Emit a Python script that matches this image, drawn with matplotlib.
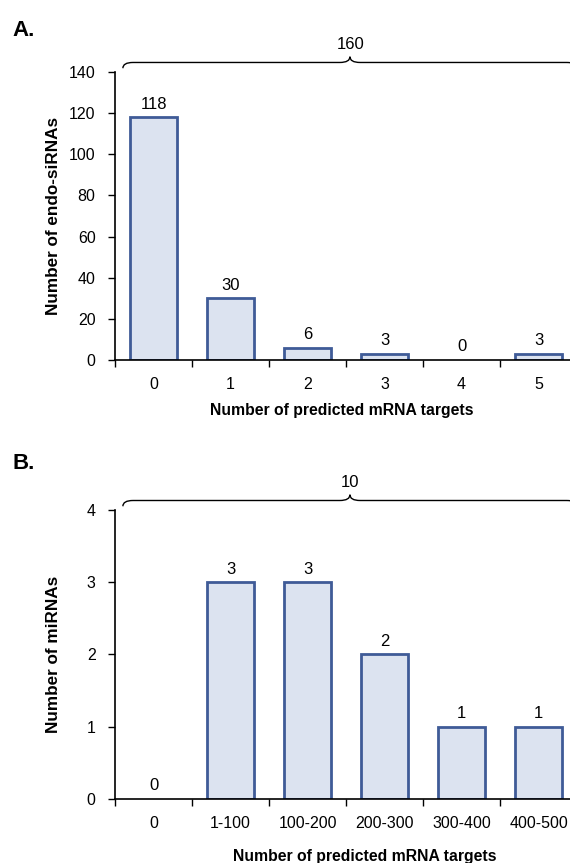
import numpy as np
import matplotlib
matplotlib.use('Agg')
import matplotlib.pyplot as plt
from matplotlib.path import Path
from matplotlib.patches import PathPatch

plt.rcParams['font.family'] = ['Liberation Sans', 'DejaVu Sans']
plt.rcParams['font.size'] = 11.5

# panel A: endo-siRNAs
a_cats = ['0', '1', '2', '3', '4', '5']
a_vals = [118, 30, 6, 3, 0, 3]
a_total = 160
a_yticks = [0, 20, 40, 60, 80, 100, 120, 140]

# panel B: miRNAs
b_cats = ['0', '1-100', '100-200', '200-300', '300-400', '400-500']
b_vals = [0, 3, 3, 2, 1, 1]
b_total = 10
b_yticks = [0, 1, 2, 3, 4]

edge = '#3F5B97'
fill = '#DCE3F0'


def brace(ax, x0, x1, y, h, r):
    xm = (x0 + x1) / 2
    verts = [(x0, y - h), (x0, y), (x0 + r, y),
             (xm - r, y), (xm, y), (xm, y + h),
             (xm, y), (xm + r, y),
             (x1 - r, y), (x1, y), (x1, y - h)]
    codes = [Path.MOVETO, Path.CURVE3, Path.CURVE3,
             Path.LINETO, Path.CURVE3, Path.CURVE3,
             Path.CURVE3, Path.CURVE3,
             Path.LINETO, Path.CURVE3, Path.CURVE3]
    p = PathPatch(Path(verts, codes), transform=ax.transAxes, fill=False,
                  lw=1.0, color='black', clip_on=False)
    ax.add_patch(p)


def panel(ax, cats, vals, yticks, ylabel, total, xlab_pos):
    x = np.arange(len(cats))
    lws = [2 if v > 0 else 0 for v in vals]
    ax.bar(x, vals, width=0.62, color=fill, edgecolor=edge, linewidth=lws)
    for xi, v in zip(x, vals):
        ax.annotate(str(v), (xi, v), xytext=(0, 4), textcoords='offset points',
                    ha='center', va='bottom', fontsize=12)
    ax.set_xlim(-0.5, len(cats) - 0.5)
    ax.set_ylim(yticks[0], yticks[-1])
    ax.set_yticks(yticks)
    ax.set_xticks(x)
    ax.set_xticklabels(cats)
    ax.set_xticks(np.arange(len(cats) + 1) - 0.5, minor=True)
    ax.tick_params(axis='x', which='major', length=0, pad=12)
    ax.tick_params(axis='x', which='minor', length=5, width=1)
    ax.tick_params(axis='y', length=5, width=1, pad=9)
    for s in ['top', 'right']:
        ax.spines[s].set_visible(False)
    for s in ['left', 'bottom']:
        ax.spines[s].set_linewidth(1.2)
    ax.set_xlabel('Number of predicted mRNA targets', fontweight='bold', fontsize=11.3)
    ax.xaxis.set_label_coords(*xlab_pos)
    ax.set_ylabel(ylabel, fontweight='bold', fontsize=12.3)
    ax.yaxis.set_label_coords(-0.117, 0.5)
    brace(ax, 0.017, 1.0, 1.033, 0.02, 0.022)
    ax.text(0.509, 1.097, str(total), transform=ax.transAxes,
            ha='center', va='center', fontsize=12)


fig = plt.figure(figsize=(5.7, 8.63), dpi=100)
ax1 = fig.add_axes([0.2018, 0.5829, 0.8105, 0.3337])
ax2 = fig.add_axes([0.2018, 0.0742, 0.8105, 0.3348])

panel(ax1, a_cats, a_vals, a_yticks, 'Number of endo-siRNAs', a_total, (0.49, -0.149))
panel(ax2, b_cats, b_vals, b_yticks, 'Number of miRNAs', b_total, (0.541, -0.174))

fig.text(0.022, 0.965, 'A.', fontsize=16, fontweight='bold', va='center')
fig.text(0.022, 0.463, 'B.', fontsize=16, fontweight='bold', va='center')

fig.savefig('out.png', dpi=100)
